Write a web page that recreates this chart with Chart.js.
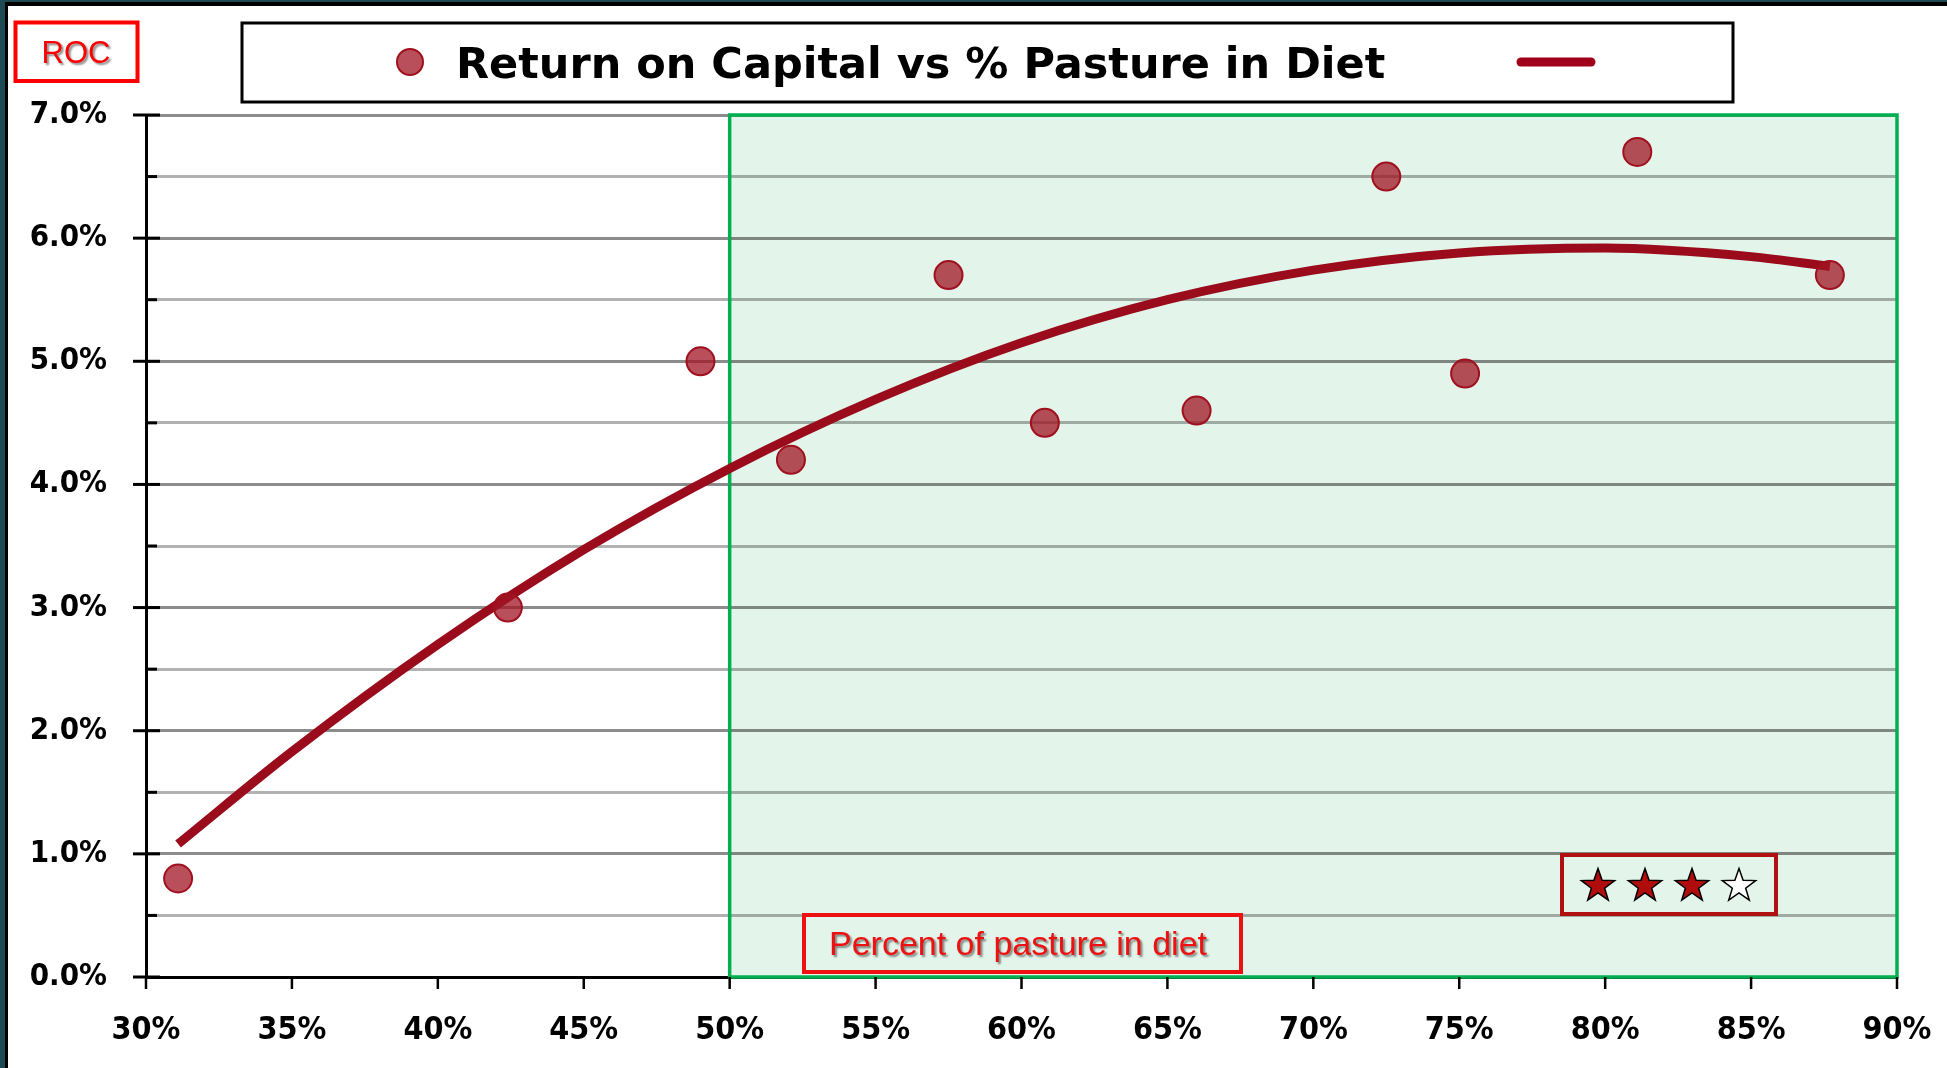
<!DOCTYPE html>
<html><head><meta charset="utf-8">
<script src="https://cdn.jsdelivr.net/npm/chart.js@4/dist/chart.umd.min.js"></script>
<style>html,body{margin:0;padding:0;background:#fff;overflow:hidden}
#wrap{position:relative;width:1947px;height:1068px}</style></head>
<body><div id="wrap"><canvas id="c"></canvas></div>
<script>
// ---- data ----
const pastureShare    = [31.1, 42.4, 49.0, 52.1, 57.5, 60.8, 66.0, 72.5, 75.2, 81.1, 87.7];
const returnOnCapital = [0.8, 3.0, 5.0, 4.2, 5.7, 4.5, 4.6, 6.5, 4.9, 6.7, 5.7];
const trendShare  = [31.1, 35, 40, 45, 50, 55, 60, 65, 70, 75, 80, 85, 87.7];
const trendReturn = [1.08, 1.83, 2.70, 3.47, 4.13, 4.69, 5.15, 5.50, 5.74, 5.88, 5.92, 5.85, 5.77];
const seriesLabel = 'Return on Capital vs % Pasture in Diet';
const yAxisTitle = 'ROC';
const xAxisTitle = 'Percent of pasture in diet';
const rating = [1, 1, 1, 0];
const zoneStart = 50, zoneEnd = 90;
const xMin = 30, xMax = 90, xStep = 5;
const yMin = 0, yMax = 7, yStep = 0.5;

const DARK_RED = '#9a0c1c';
const POINT_FILL = 'rgba(160,20,35,0.75)';
const POINT_BORDER = '#a0101e';
const xTickFont = {family: '"DejaVu Sans Condensed", "DejaVu Sans", sans-serif', size: 32, weight: 'bold'};
const yTickFont = {family: '"DejaVu Sans Condensed", "DejaVu Sans", sans-serif', size: 31, weight: 'bold'};

function star(ctx, cx, cy, R, r, fill) {
  ctx.beginPath();
  for (let i = 0; i < 10; i++) {
    const rad = i % 2 === 0 ? R : r;
    const a = -Math.PI / 2 + i * Math.PI / 5;
    const px = cx + rad * Math.cos(a), py = cy + rad * Math.sin(a);
    if (i === 0) ctx.moveTo(px, py); else ctx.lineTo(px, py);
  }
  ctx.closePath();
  ctx.fillStyle = fill; ctx.fill();
  ctx.lineWidth = 1.5; ctx.strokeStyle = '#000'; ctx.stroke();
}

const deco = {
  id: 'deco',
  beforeDraw(chart) {
    const {ctx, scales: {x, y}} = chart;
    ctx.save();
    ctx.fillStyle = '#1e4a53';
    ctx.fillRect(0, 0, 5, chart.height); ctx.fillRect(0, 0, chart.width, 2);
    ctx.fillStyle = '#000';
    ctx.fillRect(5, 2, 3, chart.height); ctx.fillRect(5, 2, chart.width, 4);
    const l = x.getPixelForValue(zoneStart), r = x.getPixelForValue(zoneEnd);
    const t = y.getPixelForValue(yMax), b = y.getPixelForValue(yMin);
    ctx.fillStyle = '#e3f5ea';
    ctx.fillRect(l, t, r - l, b - t);
    ctx.restore();
  },
  beforeDatasetsDraw(chart) {
    const {ctx, scales: {x, y}} = chart;
    ctx.save();
    const l = x.getPixelForValue(zoneStart), r = x.getPixelForValue(zoneEnd);
    const t = y.getPixelForValue(yMax), b = y.getPixelForValue(yMin);
    ctx.strokeStyle = '#00b050'; ctx.lineWidth = 3.5;
    ctx.strokeRect(l, t, r - l, b - t);
    // tick marks
    const ax = x.getPixelForValue(xMin);
    ctx.strokeStyle = '#000'; ctx.lineWidth = 3;
    y.ticks.forEach(tk => {
      const py = y.getPixelForValue(tk.value);
      const major = Math.abs(tk.value - Math.round(tk.value)) < 1e-6;
      ctx.beginPath();
      ctx.moveTo(major ? ax - 13 : ax, py);
      ctx.lineTo(major ? ax + 14 : ax + 11, py);
      ctx.stroke();
    });
    ctx.lineWidth = 2.5;
    x.ticks.forEach(tk => {
      const px = x.getPixelForValue(tk.value);
      ctx.beginPath(); ctx.moveTo(px, b); ctx.lineTo(px, b + 12); ctx.stroke();
    });
    ctx.restore();
  },
  afterDraw(chart) {
    const {ctx} = chart;
    ctx.save();
    // legend box
    ctx.strokeStyle = '#000'; ctx.lineWidth = 3;
    ctx.strokeRect(242, 23, 1491, 79);
    ctx.beginPath(); ctx.arc(410, 62, 13, 0, Math.PI * 2);
    ctx.fillStyle = POINT_FILL; ctx.fill();
    ctx.lineWidth = 2; ctx.strokeStyle = POINT_BORDER; ctx.stroke();
    ctx.fillStyle = '#000'; ctx.font = 'bold 43px "DejaVu Sans"';
    ctx.textBaseline = 'alphabetic'; ctx.textAlign = 'left';
    ctx.fillText(seriesLabel, 456, 78);
    ctx.beginPath(); ctx.moveTo(1521, 62); ctx.lineTo(1591, 62);
    ctx.lineWidth = 9; ctx.lineCap = 'round'; ctx.strokeStyle = '#a0001a'; ctx.stroke();
    ctx.lineCap = 'butt';
    // ROC box
    ctx.strokeStyle = '#ff0000'; ctx.lineWidth = 4;
    ctx.strokeRect(15.5, 22.5, 122, 58.5);
    ctx.save();
    ctx.shadowColor = 'rgba(0,0,0,0.45)'; ctx.shadowOffsetX = 2; ctx.shadowOffsetY = 2; ctx.shadowBlur = 2;
    ctx.fillStyle = '#ff0000'; ctx.font = '31px "Liberation Sans"'; ctx.textAlign = 'center';
    ctx.fillText(yAxisTitle, 76, 63);
    ctx.restore();
    // x title box
    ctx.fillStyle = '#e3f5ea';
    ctx.fillRect(804, 915, 437, 57);
    ctx.strokeStyle = '#ee1111'; ctx.lineWidth = 4;
    ctx.strokeRect(804, 915, 437, 57);
    ctx.save();
    ctx.shadowColor = 'rgba(0,0,0,0.45)'; ctx.shadowOffsetX = 2; ctx.shadowOffsetY = 2; ctx.shadowBlur = 2;
    ctx.fillStyle = '#ee1111'; ctx.font = '34px "Liberation Sans"'; ctx.textAlign = 'left';
    ctx.fillText(xAxisTitle, 829, 955);
    ctx.restore();
    // rating box
    ctx.fillStyle = '#e3f5ea';
    ctx.fillRect(1562, 855, 214, 59);
    ctx.strokeStyle = '#b01010'; ctx.lineWidth = 4;
    ctx.strokeRect(1562, 855, 214, 59);
    rating.forEach((f, i) => star(ctx, 1598 + i * 47, 886, 17.5, 7, f ? '#b00c0c' : '#ffffff'));
    ctx.restore();
  }
};

new Chart(document.getElementById('c'), {
  type: 'scatter',
  data: {
    datasets: [
      {
        label: seriesLabel,
        data: pastureShare.map((v, i) => ({x: v, y: returnOnCapital[i]})),
        backgroundColor: POINT_FILL, borderColor: POINT_BORDER, borderWidth: 2,
        pointRadius: 14, pointHoverRadius: 14
      },
      {
        label: 'Trend',
        type: 'line',
        data: trendShare.map((v, i) => ({x: v, y: trendReturn[i]})),
        showLine: true, borderColor: DARK_RED, borderWidth: 9, pointRadius: 0,
        cubicInterpolationMode: 'monotone', fill: false
      }
    ]
  },
  options: {
    responsive: true, maintainAspectRatio: false, animation: false,
    layout: {padding: {left: 0, right: 50, top: 115, bottom: 0}},
    plugins: {legend: {display: false}, tooltip: {enabled: false}},
    scales: {
      x: {
        type: 'linear', min: xMin, max: xMax,
        ticks: {stepSize: xStep, color: '#000', font: xTickFont, padding: 34, maxRotation: 0,
          callback: v => v + '%'},
        grid: {display: false, drawTicks: false},
        border: {display: true, color: '#000', width: 3},
        afterFit: s => { s.height = 91; s.paddingLeft = 0; s.paddingRight = 0; }
      },
      y: {
        type: 'linear', min: yMin, max: yMax,
        ticks: {stepSize: yStep, autoSkip: false, color: '#000', font: yTickFont, padding: 39,
          callback: v => Math.abs(v - Math.round(v)) < 1e-6 ? v.toFixed(1) + '%' : ''},
        grid: {drawTicks: false, lineWidth: 3,
          color: c => Math.abs(c.tick.value - Math.round(c.tick.value)) < 1e-6 ? 'rgba(0,0,0,0.45)' : 'rgba(0,0,0,0.3)'},
        border: {display: true, color: '#000', width: 3},
        afterFit: s => { s.width = 146; s.paddingTop = 0; s.paddingBottom = 0; }
      }
    }
  },
  plugins: [deco]
});
</script>
</body></html>
